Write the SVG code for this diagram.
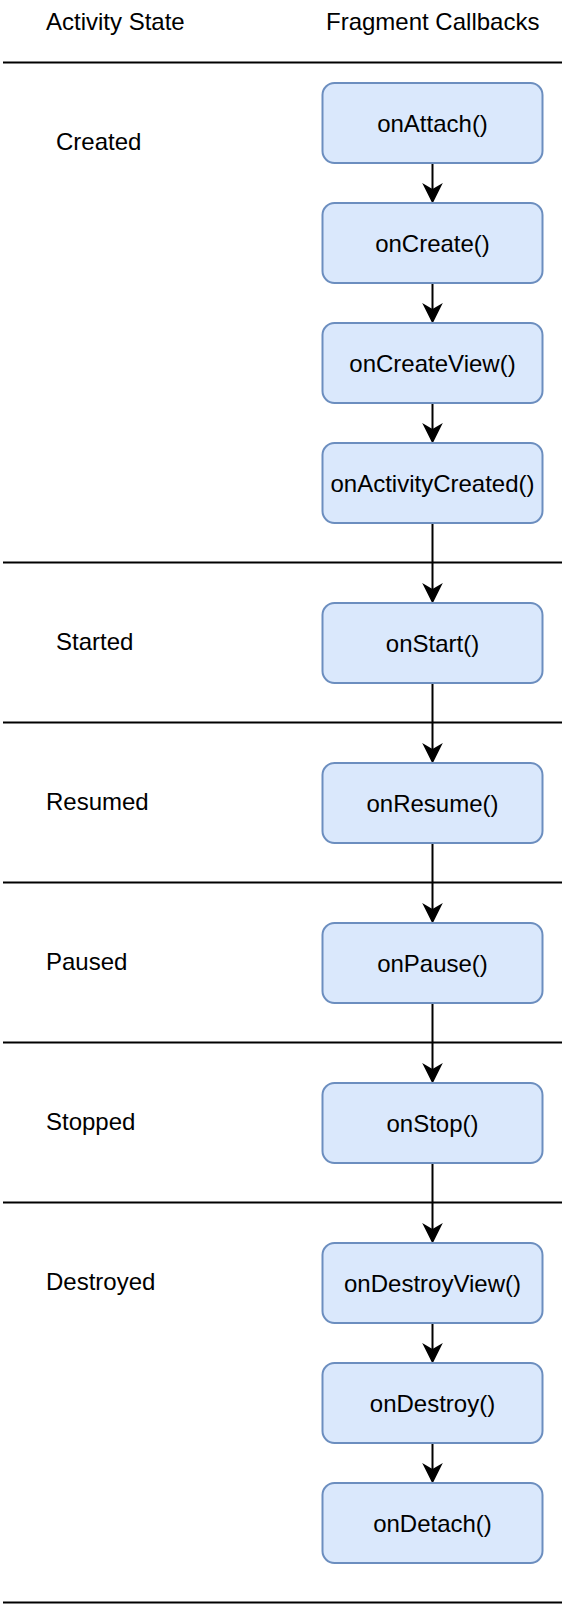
<svg xmlns="http://www.w3.org/2000/svg" width="568" height="1608" viewBox="0 0 568 1608">
<style>
.t{font-family:"Liberation Sans",Arial,Helvetica,sans-serif;font-size:24px;fill:#000}
.c{text-anchor:middle}
.box{fill:#dae8fc;stroke:#6c8ebf;stroke-width:2}
.sep{stroke:#000;stroke-width:2;fill:none}
.edge{stroke:#000;stroke-width:2;fill:none}
.head{fill:#000;stroke:#000;stroke-width:1.5;stroke-linejoin:miter}
</style>
<defs>
<path id="ah" class="head" d="M0 0 L-8.5 -17 L0 -12 L8.5 -17 Z"/>
</defs>
<rect x="0" y="0" width="568" height="1608" fill="#fff"/>
<g id="headers">
<text class="t" x="46" y="30">Activity State</text>
<text class="t" x="326" y="30">Fragment Callbacks</text>
</g>
<g id="separators">
<line class="sep" x1="3" y1="62.5" x2="562" y2="62.5"/>
<line class="sep" x1="3" y1="562.5" x2="562" y2="562.5"/>
<line class="sep" x1="3" y1="722.5" x2="562" y2="722.5"/>
<line class="sep" x1="3" y1="882.5" x2="562" y2="882.5"/>
<line class="sep" x1="3" y1="1042.5" x2="562" y2="1042.5"/>
<line class="sep" x1="3" y1="1202.5" x2="562" y2="1202.5"/>
<line class="sep" x1="3" y1="1602.5" x2="562" y2="1602.5"/>
</g>
<g id="states">
<text class="t" x="56" y="150">Created</text>
<text class="t" x="56" y="650">Started</text>
<text class="t" x="46" y="810">Resumed</text>
<text class="t" x="46" y="970">Paused</text>
<text class="t" x="46" y="1130">Stopped</text>
<text class="t" x="46" y="1290">Destroyed</text>
</g>
<g id="connectors">
<path class="edge" d="M432.5 163 V192"/><use href="#ah" x="432.5" y="202"/>
<path class="edge" d="M432.5 283 V312"/><use href="#ah" x="432.5" y="322"/>
<path class="edge" d="M432.5 403 V432"/><use href="#ah" x="432.5" y="442"/>
<path class="edge" d="M432.5 523 V592"/><use href="#ah" x="432.5" y="602"/>
<path class="edge" d="M432.5 683 V752"/><use href="#ah" x="432.5" y="762"/>
<path class="edge" d="M432.5 843 V912"/><use href="#ah" x="432.5" y="922"/>
<path class="edge" d="M432.5 1003 V1072"/><use href="#ah" x="432.5" y="1082"/>
<path class="edge" d="M432.5 1163 V1232"/><use href="#ah" x="432.5" y="1242"/>
<path class="edge" d="M432.5 1323 V1352"/><use href="#ah" x="432.5" y="1362"/>
<path class="edge" d="M432.5 1443 V1472"/><use href="#ah" x="432.5" y="1482"/>
</g>
<g id="onAttach"><rect class="box" x="322.5" y="83" width="220" height="80" rx="12"/><text class="t c" x="432.5" y="131.5">onAttach()</text></g>
<g id="onCreate"><rect class="box" x="322.5" y="203" width="220" height="80" rx="12"/><text class="t c" x="432.5" y="251.5">onCreate()</text></g>
<g id="onCreateView"><rect class="box" x="322.5" y="323" width="220" height="80" rx="12"/><text class="t c" x="432.5" y="371.5">onCreateView()</text></g>
<g id="onActivityCreated"><rect class="box" x="322.5" y="443" width="220" height="80" rx="12"/><text class="t c" x="432.5" y="491.5">onActivityCreated()</text></g>
<g id="onStart"><rect class="box" x="322.5" y="603" width="220" height="80" rx="12"/><text class="t c" x="432.5" y="651.5">onStart()</text></g>
<g id="onResume"><rect class="box" x="322.5" y="763" width="220" height="80" rx="12"/><text class="t c" x="432.5" y="811.5">onResume()</text></g>
<g id="onPause"><rect class="box" x="322.5" y="923" width="220" height="80" rx="12"/><text class="t c" x="432.5" y="971.5">onPause()</text></g>
<g id="onStop"><rect class="box" x="322.5" y="1083" width="220" height="80" rx="12"/><text class="t c" x="432.5" y="1131.5">onStop()</text></g>
<g id="onDestroyView"><rect class="box" x="322.5" y="1243" width="220" height="80" rx="12"/><text class="t c" x="432.5" y="1291.5">onDestroyView()</text></g>
<g id="onDestroy"><rect class="box" x="322.5" y="1363" width="220" height="80" rx="12"/><text class="t c" x="432.5" y="1411.5">onDestroy()</text></g>
<g id="onDetach"><rect class="box" x="322.5" y="1483" width="220" height="80" rx="12"/><text class="t c" x="432.5" y="1531.5">onDetach()</text></g>
</svg>
